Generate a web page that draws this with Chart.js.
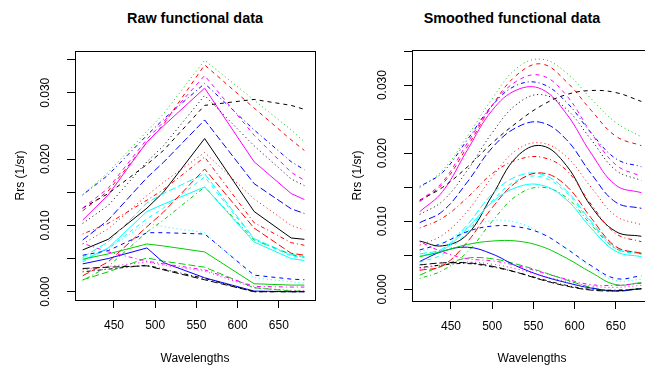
<!DOCTYPE html>
<html>
<head>
<meta charset="utf-8">
<script src="https://cdn.jsdelivr.net/npm/chart.js@4"></script>
<style>
  html, body { margin: 0; padding: 0; background: #fff; overflow: hidden; }
  body { width: 645px; height: 367px; position: relative; font-family: "Liberation Sans", Arial, sans-serif; }
  .panel { position: absolute; top: 0; }
  .title { position: absolute; top: 9px; width: 240px; text-align: center; font-weight: bold; font-size: 14.4px; line-height: 18px; }
</style>
</head>
<body>
<div class="title" style="left:75px">Raw functional data</div>
<div class="title" style="left:392px">Smoothed functional data</div>
<canvas id="rawPlot" class="panel" style="left:0px" width="330" height="367"></canvas>
<canvas id="smoothPlot" class="panel" style="left:337px" width="330" height="367"></canvas>
<script>
// Wavelengths of the raw bands (nm)
const rawWavelengths = [412, 443, 490, 510, 560, 620, 665, 681];
const smoothWavelengths = [412, 440, 470, 500, 530, 560, 590, 620, 650, 681];

// Raw Rrs curves, one per sample (1/sr)
const raw01 = [0.0063, 0.0079, 0.0126, 0.0150, 0.0231, 0.0121, 0.0081, 0.0079];
const raw02 = [0.0122, 0.0152, 0.0225, 0.0252, 0.0342, 0.0277, 0.0229, 0.0213];
const raw03 = [0.0146, 0.0180, 0.0242, 0.0268, 0.0349, 0.0289, 0.0244, 0.0226];
const raw04 = [0.0146, 0.0176, 0.0236, 0.0260, 0.0314, 0.0244, 0.0196, 0.0184];
const raw05 = [0.0052, 0.0075, 0.0134, 0.0148, 0.0178, 0.0080, 0.0056, 0.0053];
const raw06 = [0.0108, 0.0146, 0.0226, 0.0250, 0.0307, 0.0196, 0.0148, 0.0139];
const raw07 = [0.0126, 0.0148, 0.0192, 0.0213, 0.0281, 0.0290, 0.0281, 0.0275];
const raw08 = [0.0072, 0.0095, 0.0145, 0.0165, 0.0210, 0.0140, 0.0100, 0.0093];
const raw09 = [0.0017, 0.0038, 0.0090, 0.0108, 0.0158, 0.0078, 0.0056, 0.0052];
const raw10 = [0.0078, 0.0108, 0.0172, 0.0195, 0.0259, 0.0163, 0.0125, 0.0118];
const raw11 = [0.0047, 0.0066, 0.0121, 0.0132, 0.0158, 0.0075, 0.0050, 0.0047];
const raw12 = [0.0126, 0.0156, 0.0230, 0.0256, 0.0326, 0.0236, 0.0180, 0.0168];
const raw13 = [0.0103, 0.0130, 0.0196, 0.0220, 0.0296, 0.0220, 0.0170, 0.0160];
const raw14 = [0.0087, 0.0103, 0.0138, 0.0154, 0.0203, 0.0104, 0.0074, 0.0070];
const raw15 = [0.0018, 0.0030, 0.0051, 0.0046, 0.0037, 0.0006, 0.0001, 0.0001];
const raw16 = [0.0042, 0.0050, 0.0066, 0.0044, 0.0021, 0.0001, 0.0000, 0.0000];
const raw17 = [0.0045, 0.0065, 0.0110, 0.0126, 0.0173, 0.0079, 0.0054, 0.0051];
const raw18 = [0.0033, 0.0038, 0.0045, 0.0040, 0.0031, 0.0006, 0.0002, 0.0002];
const raw19 = [0.0030, 0.0034, 0.0040, 0.0034, 0.0020, 0.0000, 0.0000, 0.0000];
const raw20 = [0.0024, 0.0045, 0.0098, 0.0120, 0.0185, 0.0096, 0.0058, 0.0055];
const raw21 = [0.0049, 0.0057, 0.0072, 0.0069, 0.0060, 0.0012, 0.0010, 0.0010];
const raw22 = [0.0055, 0.0062, 0.0089, 0.0089, 0.0087, 0.0025, 0.0019, 0.0018];
const raw23 = [0.0051, 0.0065, 0.0104, 0.0098, 0.0089, 0.0021, 0.0015, 0.0013];
const raw24 = [0.0073, 0.0060, 0.0046, 0.0042, 0.0033, 0.0008, 0.0007, 0.0007];
const raw25 = [0.0035, 0.0037, 0.0039, 0.0033, 0.0018, 0.0000, 0.0000, 0.0000];

// Smoothed curves, same samples in the same order
const smooth01 = [0.0071, 0.0064, 0.0081, 0.0138, 0.0195, 0.0211, 0.0182, 0.0122, 0.0085, 0.0078];
const smooth02 = [0.0129, 0.0155, 0.0210, 0.0270, 0.0315, 0.0331, 0.0305, 0.0263, 0.0225, 0.0211];
const smooth03 = [0.0149, 0.0175, 0.0225, 0.0280, 0.0325, 0.0338, 0.0318, 0.0280, 0.0245, 0.0224];
const smooth04 = [0.0151, 0.0172, 0.0220, 0.0270, 0.0300, 0.0302, 0.0275, 0.0230, 0.0192, 0.0180];
const smooth05 = [0.0052, 0.0060, 0.0095, 0.0140, 0.0166, 0.0169, 0.0145, 0.0100, 0.0062, 0.0053];
const smooth06 = [0.0114, 0.0144, 0.0205, 0.0263, 0.0293, 0.0294, 0.0258, 0.0200, 0.0153, 0.0142];
const smooth07 = [0.0131, 0.0150, 0.0180, 0.0215, 0.0245, 0.0270, 0.0286, 0.0292, 0.0289, 0.0276];
const smooth08 = [0.0065, 0.0080, 0.0115, 0.0165, 0.0205, 0.0215, 0.0195, 0.0150, 0.0108, 0.0095];
const smooth09 = [0.0016, 0.0028, 0.0055, 0.0100, 0.0138, 0.0150, 0.0135, 0.0095, 0.0060, 0.0052];
const smooth10 = [0.0098, 0.0115, 0.0158, 0.0208, 0.0238, 0.0245, 0.0220, 0.0170, 0.0128, 0.0119];
const smooth11 = [0.0049, 0.0058, 0.0090, 0.0128, 0.0150, 0.0153, 0.0132, 0.0090, 0.0056, 0.0048];
const smooth12 = [0.0130, 0.0158, 0.0215, 0.0270, 0.0306, 0.0314, 0.0285, 0.0230, 0.0183, 0.0166];
const smooth13 = [0.0110, 0.0130, 0.0175, 0.0230, 0.0272, 0.0286, 0.0265, 0.0220, 0.0175, 0.0160];
const smooth14 = [0.0090, 0.0105, 0.0135, 0.0170, 0.0190, 0.0194, 0.0175, 0.0125, 0.0082, 0.0070];
const smooth15 = [0.0021, 0.0035, 0.0046, 0.0045, 0.0037, 0.0026, 0.0014, 0.0003, -0.0003, 0.0002];
const smooth16 = [0.0041, 0.0056, 0.0062, 0.0052, 0.0034, 0.0020, 0.0010, 0.0002, -0.0002, 0.0001];
const smooth17 = [0.0040, 0.0052, 0.0085, 0.0130, 0.0160, 0.0165, 0.0142, 0.0098, 0.0060, 0.0052];
const smooth18 = [0.0030, 0.0036, 0.0040, 0.0037, 0.0030, 0.0020, 0.0012, 0.0005, 0.0003, 0.0006];
const smooth19 = [0.0032, 0.0036, 0.0038, 0.0033, 0.0025, 0.0015, 0.0006, 0.0000, -0.0001, 0.0001];
const smooth20 = [0.0028, 0.0035, 0.0070, 0.0120, 0.0158, 0.0171, 0.0152, 0.0105, 0.0063, 0.0053];
const smooth21 = [0.0048, 0.0056, 0.0066, 0.0071, 0.0071, 0.0063, 0.0046, 0.0025, 0.0007, 0.0010];
const smooth22 = [0.0058, 0.0068, 0.0085, 0.0093, 0.0092, 0.0082, 0.0060, 0.0035, 0.0016, 0.0020];
const smooth23 = [0.0055, 0.0068, 0.0090, 0.0101, 0.0098, 0.0083, 0.0060, 0.0033, 0.0013, 0.0015];
const smooth24 = [0.0070, 0.0055, 0.0045, 0.0042, 0.0035, 0.0025, 0.0015, 0.0007, 0.0006, 0.0009];
const smooth25 = [0.0036, 0.0039, 0.0039, 0.0034, 0.0025, 0.0014, 0.0005, -0.0001, -0.0002, 0.0001];

const rawSeries = [raw01, raw02, raw03, raw04, raw05, raw06, raw07, raw08, raw09, raw10,
  raw11, raw12, raw13, raw14, raw15, raw16, raw17, raw18, raw19, raw20,
  raw21, raw22, raw23, raw24, raw25];
const smoothSeries = [smooth01, smooth02, smooth03, smooth04, smooth05, smooth06, smooth07,
  smooth08, smooth09, smooth10, smooth11, smooth12, smooth13, smooth14, smooth15, smooth16,
  smooth17, smooth18, smooth19, smooth20, smooth21, smooth22, smooth23, smooth24, smooth25];

const xTicks = [450, 500, 550, 600, 650];
const yTicks = [0, 0.005, 0.010, 0.015, 0.020, 0.025, 0.030, 0.035];

// matplot cycles colours 1:6 and line types 1:5
const lineColors = ["#000000", "#ff0000", "#00cd00", "#0000ff", "#00ffff", "#ff00ff"];
const lineDashes = [[], [4, 4], [1, 3], [1, 3, 4, 3], [7, 3]];

const FONT = "'Liberation Sans', Arial, Helvetica, sans-serif";

function buildDatasets(xs, series, tension) {
  return series.map((ys, i) => ({
    data: xs.map((x, j) => ({ x: x, y: ys[j] })),
    borderColor: lineColors[i % 6],
    borderDash: lineDashes[i % 5],
    borderWidth: 1,
    pointRadius: 0,
    fill: false,
    tension: tension,
    order: -i
  }));
}

// Draw the R-style box round the plot region
const boxPlugin = {
  id: "box",
  afterDraw(chart) {
    const a = chart.chartArea;
    const ctx = chart.ctx;
    ctx.save();
    ctx.strokeStyle = "#000";
    ctx.lineWidth = 1;
    ctx.strokeRect(Math.round(a.left) + 0.5, Math.round(a.top) + 0.5,
      Math.round(a.right - a.left), Math.round(a.bottom - a.top));
    ctx.restore();
  }
};

function makeChart(id, xs, series, tension, yMin, yMax, topPx, bottomPx) {
  const ctx = document.getElementById(id).getContext("2d");
  return new Chart(ctx, {
    type: "line",
    data: { datasets: buildDatasets(xs, series, tension) },
    plugins: [boxPlugin],
    options: {
      responsive: false,
      animation: false,
      events: [],
      layout: { padding: { left: 0, right: 15, top: topPx, bottom: 0 } },
      plugins: { legend: { display: false }, tooltip: { enabled: false } },
      scales: {
        x: {
          type: "linear",
          min: 402.7,
          max: 693.9,
          afterBuildTicks: s => { s.ticks = xTicks.map(v => ({ value: v })); },
          afterFit: s => { s.height = 367 - bottomPx; },
          grid: { drawOnChartArea: false, drawTicks: true, tickLength: 8, color: "#000", tickColor: "#000" },
          border: { display: false },
          ticks: { autoSkip: false, maxRotation: 0, padding: 10, color: "#000", font: { family: FONT, size: 12 } },
          title: { display: true, text: "Wavelengths", color: "#000", padding: 1, font: { family: FONT, size: 12 } }
        },
        y: {
          min: yMin,
          max: yMax,
          afterBuildTicks: s => { s.ticks = yTicks.filter(v => v >= yMin && v <= yMax).map(v => ({ value: v })); },
          afterFit: s => { s.width = 75; },
          grid: { drawOnChartArea: false, drawTicks: true, tickLength: 8, color: "#000", tickColor: "#000" },
          border: { display: false },
          ticks: {
            autoSkip: false,
            minRotation: 90,
            maxRotation: 90,
            crossAlign: "center",
            padding: 6,
            color: "#000",
            font: { family: FONT, size: 12 },
            callback: v => (Math.round(v * 1000) % 10 === 0 ? v.toFixed(3) : "")
          },
          title: { display: true, text: "Rrs (1/sr)", color: "#000", padding: 13, font: { family: FONT, size: 12 } }
        }
      }
    }
  });
}

makeChart("rawPlot", rawWavelengths, rawSeries, 0, -0.00125, 0.0363, 51, 300);
makeChart("smoothPlot", smoothWavelengths, smoothSeries, 0.4, -0.0017, 0.03515, 50, 301);
</script>
</body>
</html>
